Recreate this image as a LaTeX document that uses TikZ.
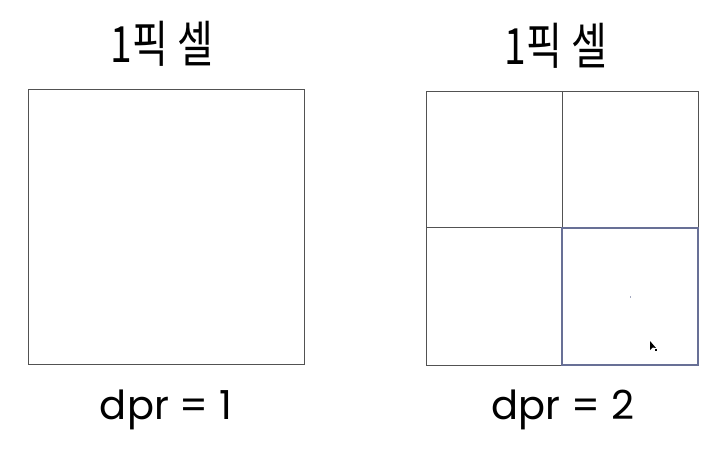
\documentclass[tikz,border=0pt]{standalone}
\usepackage{fontspec}
\setmainfont{Poppins}
\newfontfamily\kr{Noto Sans CJK KR}
\definecolor{selblue}{RGB}{104,112,150}
\begin{document}
\begin{tikzpicture}[x=1pt,y=-1pt,
  cellline/.style={draw=black!68, line width=1pt},
  selcell/.style={draw=selblue, line width=1.1pt},
  title/.style={font=\kr\fontsize{50}{54}\selectfont, inner sep=0pt},
  caption/.style={font=\fontsize{40}{44}\selectfont, inner sep=0pt}]
\useasboundingbox (0,0) rectangle (718,449);
\node[title] (t1) at (162,44) {\scalebox{0.78}[1]{1픽 셀}};
\node[title] (t2) at (556,46) {\scalebox{0.78}[1]{1픽 셀}};
\draw[cellline] (28,90) rectangle (304,364);
\draw[cellline] (426,92) rectangle (698,365);
\draw[cellline] (562,92) -- (562,365);
\draw[cellline] (426,228) -- (698,228);
\draw[selcell] (562,228) rectangle (698,365);
\fill[selblue!60] (629.5,296.5) rectangle (631,298);
\fill[black] (650,341) -- (650,350) -- (652.5,347.5) -- (656,348) -- cycle;
\fill[black] (655,349) rectangle (657,351);
\node[caption] (c1) at (166,410) {dpr = 1};
\node[caption] (c2) at (563,410) {dpr = 2};
\end{tikzpicture}
\end{document}
